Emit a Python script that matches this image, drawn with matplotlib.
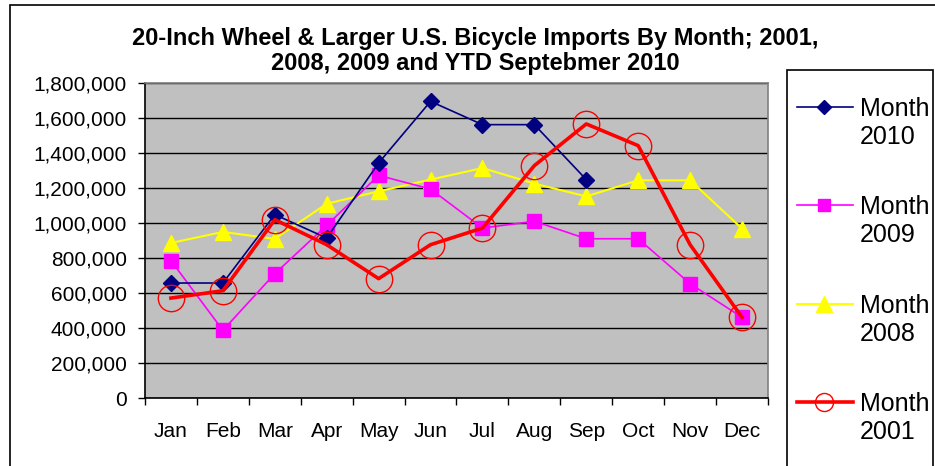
import matplotlib
matplotlib.use("Agg")
import matplotlib.pyplot as plt
from matplotlib.lines import Line2D
from matplotlib.patches import Rectangle
from matplotlib.ticker import FuncFormatter, MultipleLocator

plt.rcParams['font.family'] = ['Liberation Sans', 'DejaVu Sans']

months = ["Jan", "Feb", "Mar", "Apr", "May", "Jun", "Jul", "Aug", "Sep", "Oct", "Nov", "Dec"]
y2010 = [657000, 657000, 1048000, 914000, 1343000, 1695000, 1562000, 1562000, 1248000]
y2009 = [785000, 387000, 710000, 987000, 1272000, 1194000, 971000, 1010000, 910000, 910000, 653000, 461000]
y2008 = [886000, 949000, 909000, 1110000, 1181000, 1248000, 1314000, 1225000, 1152000, 1244000, 1244000, 968000]
y2001 = [571000, 613000, 1019000, 876000, 682000, 876000, 971000, 1328000, 1566000, 1442000, 876000, 461000]
labels = ["Month\n2010", "Month\n2009", "Month\n2008", "Month\n2001"]
title_lines = ["20-Inch Wheel & Larger U.S. Bicycle Imports By Month; 2001,",
               "2008, 2009 and YTD Septebmer 2010"]

W, H = 935, 466
fig = plt.figure(figsize=(W / 100, H / 100), dpi=100)
fig.patch.set_facecolor("white")

def fx(px):
    return px / W

def fy(py):
    return 1 - py / H

# outer chart border
fig.add_artist(Rectangle((fx(10), fy(480)), fx(940) - fx(10), fy(5) - fy(480),
                         transform=fig.transFigure, fill=False, edgecolor="black", lw=1.2))

ax = fig.add_axes([fx(145), fy(398), fx(768) - fx(145), fy(83) - fy(398)])
ax.set_facecolor("#C0C0C0")

styles = [
    dict(data=y2010, color="#000080", marker="D", ms=8, lw=1.2, mfc="#000080", mec="#000080", lms=7, z=5),
    dict(data=y2009, color="#FF00FF", marker="s", ms=10, lw=1.2, mfc="#FF00FF", mec="#FF00FF", lms=9, z=4),
    dict(data=y2008, color="#FFFF00", marker="^", ms=11, lw=1.5, mfc="#FFFF00", mec="#FFFF00", lms=11, z=3),
    dict(data=y2001, color="#FF0000", marker="o", ms=19, lw=2.6, mfc="none", mec="#FF0000", lms=13, z=6),
]

for s in styles:
    xs = list(range(len(s["data"])))
    ax.plot(xs, s["data"], color=s["color"], lw=s["lw"], marker=s["marker"], ms=s["ms"],
            mfc=s["mfc"], mec=s["mec"], mew=1.0, zorder=s["z"], clip_on=False)

ax.set_xlim(-0.5, 11.5)
ax.set_ylim(0, 1800000)
ax.yaxis.set_major_locator(MultipleLocator(200000))
ax.yaxis.set_major_formatter(FuncFormatter(lambda v, p: f"{int(v):,}"))
ax.grid(axis="y", color="black", lw=1.0)
ax.set_axisbelow(True)

ax.set_xticks(range(12))
ax.set_xticklabels(months, fontsize=15)
ax.tick_params(axis="x", length=0, pad=17)
ax.set_xticks([i - 0.5 for i in range(13)], minor=True)
ax.tick_params(axis="x", which="minor", length=5, width=1, direction="out", color="black")
ax.tick_params(axis="y", length=5, width=1, direction="out", labelsize=15, pad=8)

for side in ["top", "right"]:
    ax.spines[side].set_color("#808080")
    ax.spines[side].set_linewidth(1.2)
for side in ["left", "bottom"]:
    ax.spines[side].set_color("black")
    ax.spines[side].set_linewidth(1.2)

for line, base in zip(title_lines, [45, 70]):
    fig.text(fx(475), fy(base), line, ha="center", va="baseline", fontsize=17,
             fontweight="bold")

# legend box
fig.add_artist(Rectangle((fx(787), fy(480)), fx(933) - fx(787), fy(70) - fy(480),
                         transform=fig.transFigure, fill=False, edgecolor="black", lw=1.2))
entry_y = [107, 205, 304, 402]
for s, lab, ey in zip(styles, labels, entry_y):
    fig.add_artist(Line2D([fx(797), fx(853)], [fy(ey), fy(ey)], transform=fig.transFigure,
                          color=s["color"], lw=s["lw"]))
    fig.add_artist(Line2D([fx(824)], [fy(ey)], transform=fig.transFigure, color=s["color"],
                          marker=s["marker"], ms=s["lms"], mfc=s["mfc"], mec=s["mec"], mew=1.0,
                          lw=0))
    fig.text(fx(860), fy(ey + 16), lab, ha="left", va="center", fontsize=18, linespacing=1.2)

fig.savefig("out.png", dpi=100)
